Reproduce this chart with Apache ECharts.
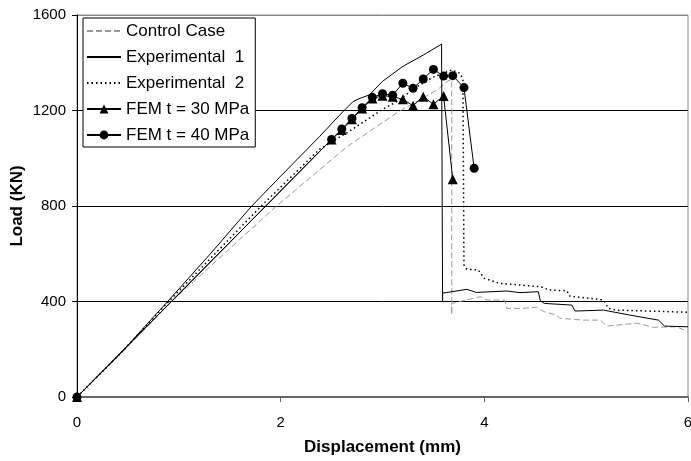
<!DOCTYPE html>
<html>
<head>
<meta charset="utf-8">
<script src="https://cdn.jsdelivr.net/npm/echarts@6/dist/echarts.min.js"></script>
<style>
html,body{margin:0;padding:0;background:#fff;}
#chart{width:691px;height:461px;}
</style>
</head>
<body>
<div id="chart"></div>
<script>
// Series names
const seriesNames = ["Control Case", "Experimental  1", "Experimental  2", "FEM t = 30 MPa", "FEM t = 40 MPa"];

// Axis ticks
const xTicks = [0, 2, 4, 6];
const yTicks = [0, 400, 800, 1200, 1600];

// [displacement (mm), load (kN)]
const controlCase = [
  [0,0],[0.45,190],[0.93,400],[1.96,800],[2.65,1048],[3.14,1190],[3.55,1290],[3.64,1323],[3.68,1330],
  [3.68,345],[3.68,392],[3.96,420],[4.02,406],[4.20,406],[4.22,371],[4.37,371],[4.51,376],[4.59,357],
  [4.71,343],[4.74,330],[4.97,322],[5.14,322],[5.20,297],[5.50,309],[5.66,292],[5.89,294],[6.0,273]
];
const experimental1 = [
  [0,0],[0.4,170],[0.89,400],[1.3,595],[1.71,797],[2.0,925],[2.38,1090],[2.6,1190],[2.71,1237],
  [2.78,1251],[2.87,1265],[3.0,1322],[3.2,1385],[3.4,1432],[3.58,1478],
  [3.59,400],[3.59,435],[3.83,451],[3.92,438],[4.22,444],[4.35,437],[4.53,441],[4.55,403],[4.59,392],
  [4.86,385],[4.89,360],[5.17,364],[5.43,343],[5.71,322],[5.77,297],[6.0,294]
];
const experimental2 = [
  [0,0],[0.42,180],[0.9,400],[1.81,800],[2.38,1037],[2.7,1120],[3.0,1205],[3.17,1244],[3.3,1290],
  [3.5,1340],[3.68,1370],[3.76,1356],[3.79,1330],[3.80,553],[3.83,535],[3.94,532],[4.0,497],
  [4.15,476],[4.55,462],[4.64,448],[4.81,445],[4.84,422],[5.04,413],[5.17,406],[5.22,371],[5.30,364],[6.0,355]
];
const fem30 = [
  [0,0],[2.5,1079],[2.6,1118],[2.7,1163],[2.8,1208],[2.9,1250],[3.0,1262],[3.1,1258],[3.2,1247],
  [3.3,1220],[3.4,1258],[3.5,1226],[3.6,1261],[3.69,912]
];
const fem40 = [
  [0,0],[2.5,1079],[2.6,1122],[2.7,1167],[2.8,1212],[2.9,1255],[3.0,1270],[3.1,1264],[3.2,1314],
  [3.3,1293],[3.4,1332],[3.5,1372],[3.6,1344],[3.69,1346],[3.8,1296],[3.9,958]
];

const FONT = '"Liberation Sans", Arial, sans-serif';
const chart = echarts.init(document.getElementById('chart'), null, {renderer: 'canvas'});

const hiddenMarker = {opacity: 0};

chart.setOption({
  animation: false,
  backgroundColor: '#fff',
  grid: {
    left: 77, right: 3, top: 15, bottom: 64,
    containLabel: false,
    outerBoundsMode: 'none',
    show: true, borderColor: '#888', borderWidth: 1, backgroundColor: 'transparent'
  },
  legend: {
    orient: 'vertical',
    left: 83, top: 18,
    backgroundColor: '#fff',
    borderColor: '#000', borderWidth: 1,
    padding: [4, 6, 3, 3],
    itemWidth: 34, itemHeight: 11, itemGap: 8,
    textStyle: {fontFamily: FONT, fontSize: 17, color: '#000', lineHeight: 18},
    data: [
      {name: seriesNames[0], itemStyle: hiddenMarker},
      {name: seriesNames[1], itemStyle: hiddenMarker},
      {name: seriesNames[2], itemStyle: hiddenMarker},
      {name: seriesNames[3]},
      {name: seriesNames[4]}
    ]
  },
  xAxis: {
    type: 'value',
    min: xTicks[0], max: xTicks[xTicks.length - 1], interval: 2,
    name: 'Displacement (mm)',
    nameLocation: 'middle', nameGap: 42,
    nameMoveOverlap: false,
    nameTextStyle: {fontFamily: FONT, fontSize: 17, fontWeight: 'bold', color: '#000'},
    axisLine: {show: true, lineStyle: {color: '#666', width: 2}},
    axisTick: {show: true, length: 5, lineStyle: {color: '#666'}},
    axisLabel: {fontFamily: FONT, fontSize: 15, color: '#000', margin: 18, formatter: v => String(v)},
    splitLine: {show: false}
  },
  yAxis: {
    type: 'value',
    min: yTicks[0], max: yTicks[yTicks.length - 1], interval: 400,
    name: 'Load (KN)',
    nameLocation: 'middle', nameGap: 51,
    nameMoveOverlap: false,
    nameTextStyle: {fontFamily: FONT, fontSize: 17, fontWeight: 'bold', color: '#000'},
    axisLine: {show: true, lineStyle: {color: '#000', width: 1}},
    axisTick: {show: true, length: 5, lineStyle: {color: '#000'}},
    axisLabel: {fontFamily: FONT, fontSize: 15, color: '#000', margin: 11, formatter: v => String(v)},
    splitLine: {show: true, lineStyle: {color: ['#666', '#000', '#000', '#000', '#888'], width: 1}}
  },
  series: [
    {
      name: seriesNames[0], type: 'line', data: controlCase, symbol: 'none',
      lineStyle: {color: '#999', width: 1, type: [6, 3]}, itemStyle: {color: '#999'}, z: 2
    },
    {
      name: seriesNames[1], type: 'line', data: experimental1, symbol: 'none',
      lineStyle: {color: '#000', width: 1}, itemStyle: {color: '#000'}, z: 3
    },
    {
      name: seriesNames[2], type: 'line', data: experimental2, symbol: 'none',
      lineStyle: {color: '#000', width: 1.5, type: [1.5, 3]}, itemStyle: {color: '#000'}, z: 3
    },
    {
      name: seriesNames[3], type: 'line', data: fem30, symbol: 'triangle', symbolSize: 10,
      lineStyle: {color: '#000', width: 1}, itemStyle: {color: '#000'}, z: 4
    },
    {
      name: seriesNames[4], type: 'line', data: fem40, symbol: 'circle', symbolSize: 9,
      lineStyle: {color: '#000', width: 1}, itemStyle: {color: '#000'}, z: 5
    }
  ]
});
</script>
</body>
</html>
